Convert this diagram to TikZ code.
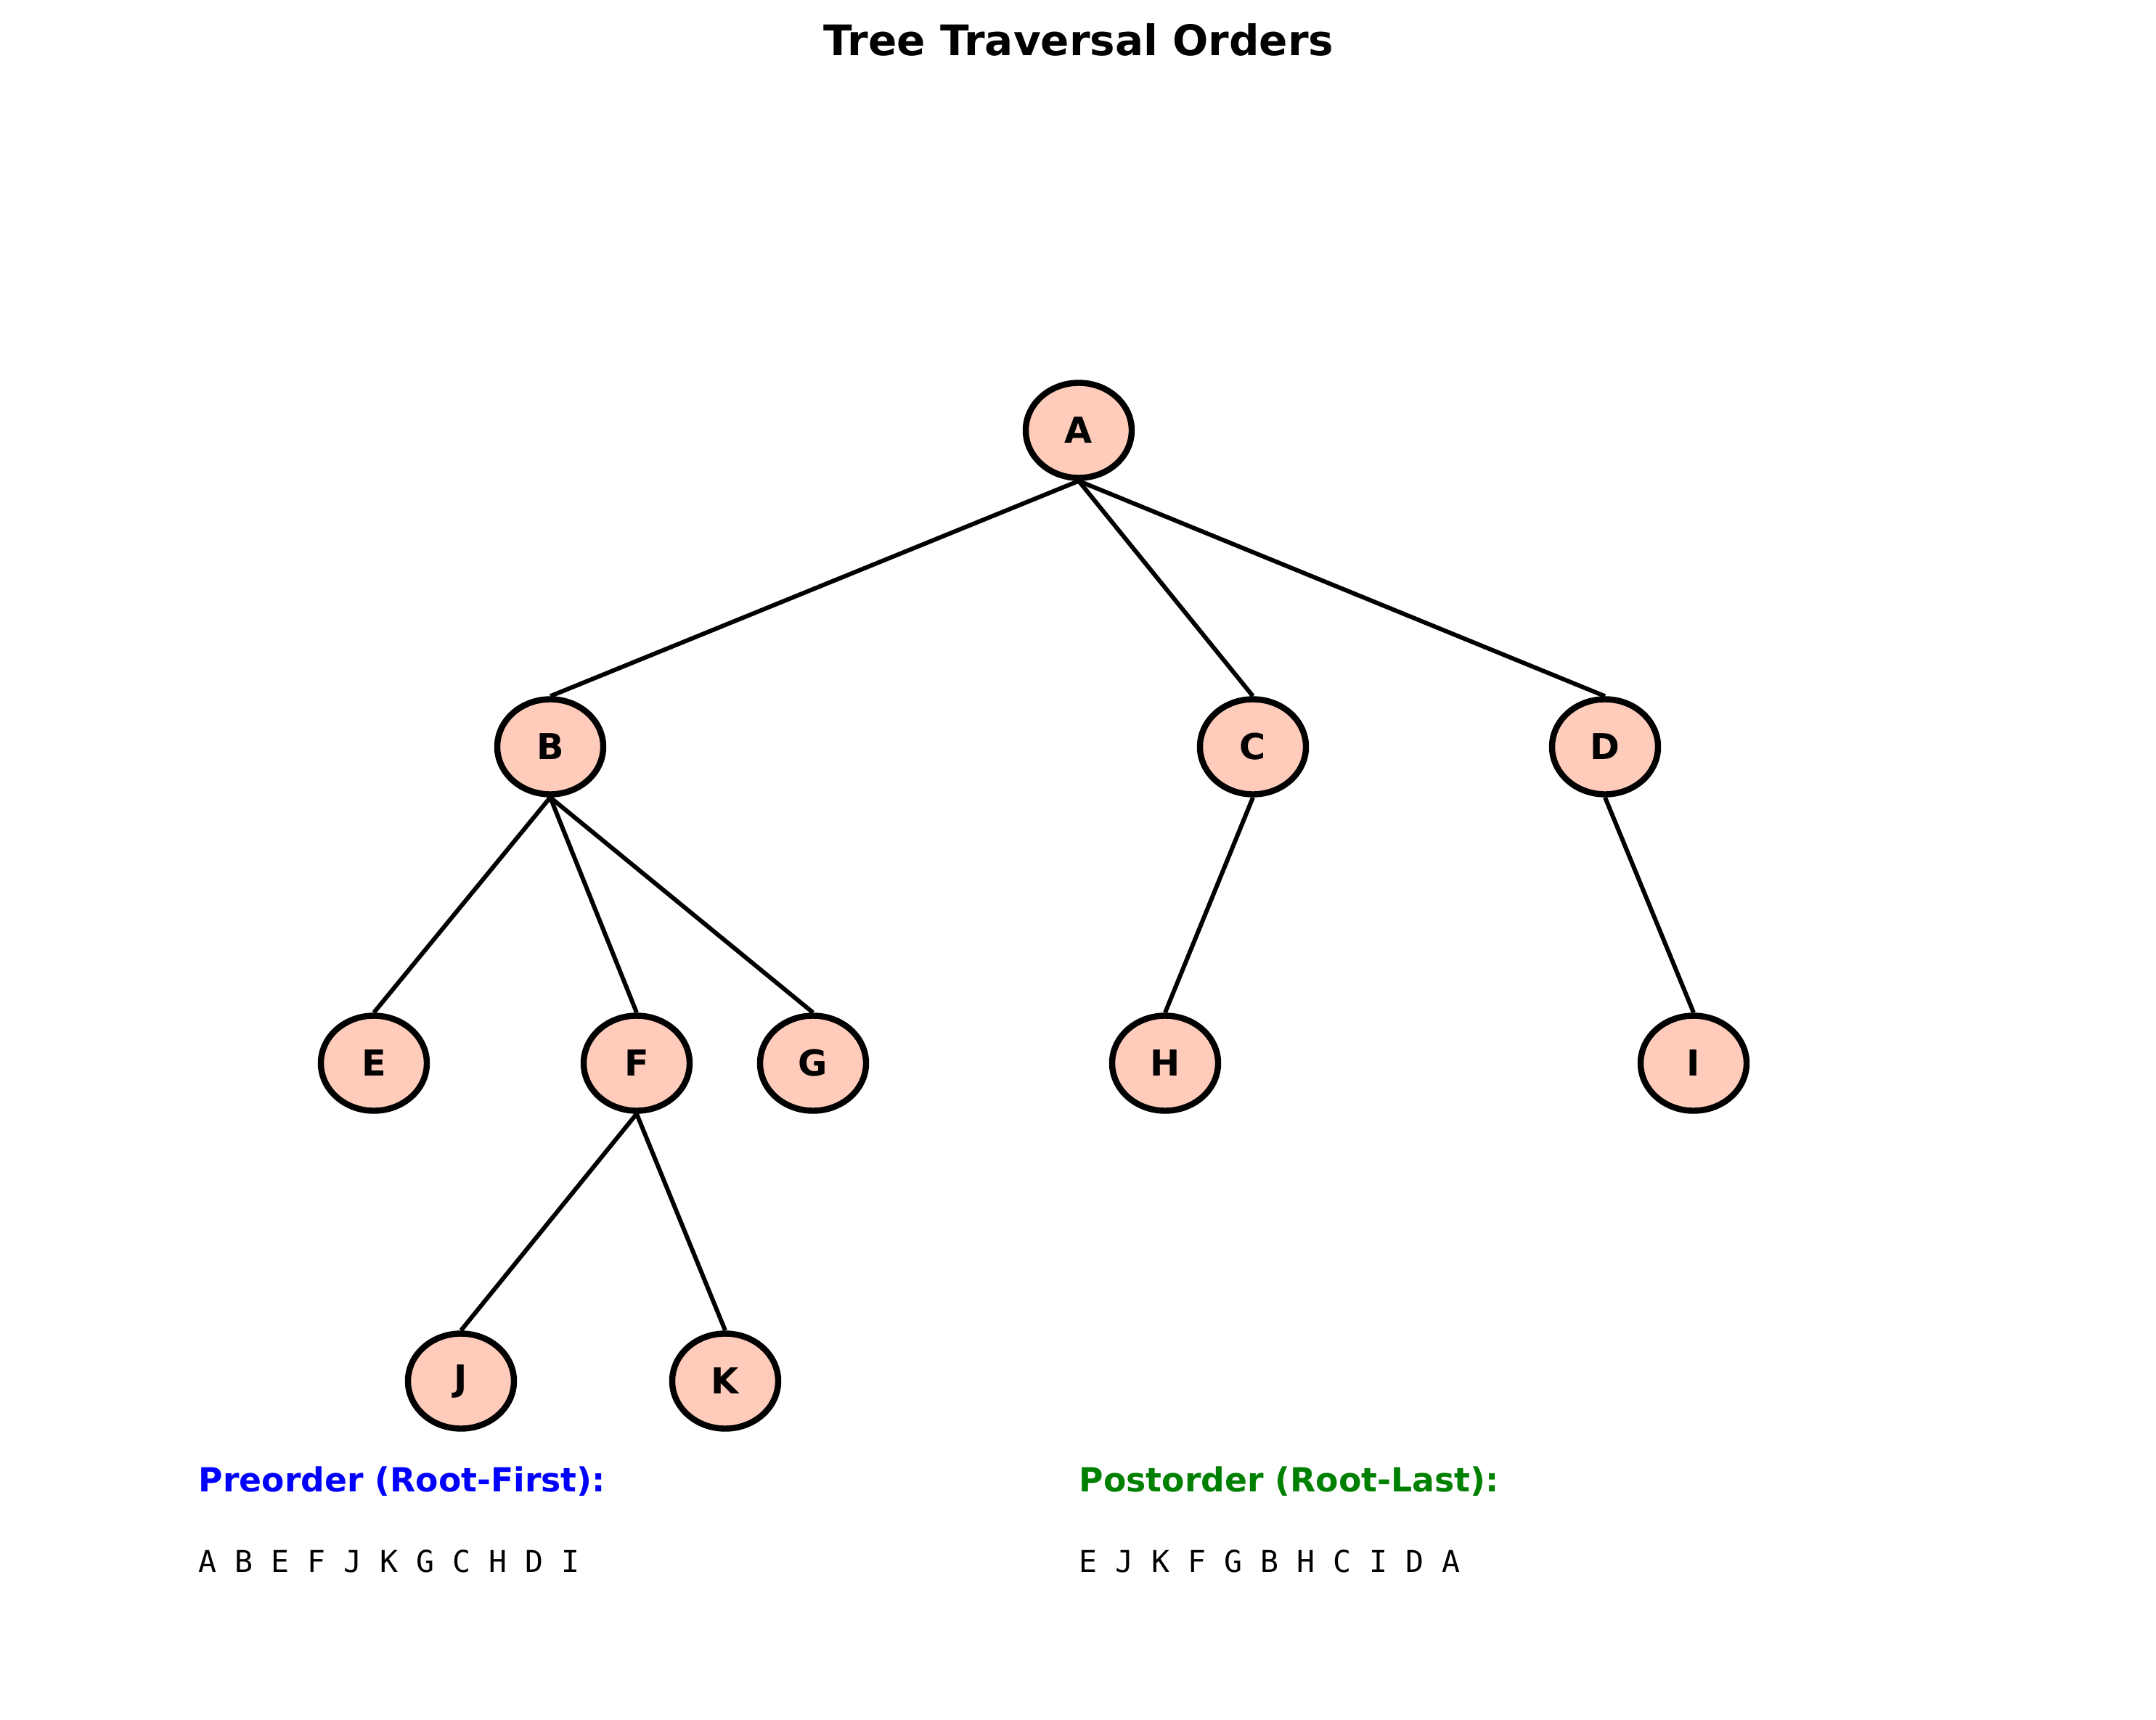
\documentclass[tikz,border=0pt]{standalone}
\usepackage{fontspec}
\setmainfont{DejaVu Sans}
\setmonofont{DejaVu Sans Mono}
\usetikzlibrary{shapes.geometric}
\definecolor{peach}{RGB}{255,204,187}
\definecolor{darkgreen}{RGB}{0,128,0}
\tikzset{
  treenode/.style={ellipse, draw=black, line width=2.4pt, fill=peach,
    minimum width=1.46cm, minimum height=1.31cm, inner sep=0pt,
    font=\fontsize{14}{16}\selectfont\bfseries},
  branch/.style={line width=1.7pt, black},
  heading/.style={anchor=west, inner sep=0pt, font=\fontsize{13}{15}\selectfont\bfseries},
  sequence/.style={anchor=west, inner sep=0pt, font=\fontsize{11.8}{14}\selectfont\ttfamily}
}
\begin{document}
\begin{tikzpicture}
			\useasboundingbox (0,0) rectangle (29.7,-23.7);
			\node[font=\fontsize{16.5}{19}\selectfont\bfseries] (title) at (14.86,-0.55) {Tree Traversal Orders};
			% tree
			\node[treenode] (A) at (14.86,-5.93) {A};
			\node[treenode] (B) at (7.58,-10.29) {B};
			\node[treenode] (C) at (17.26,-10.29) {C};
			\node[treenode] (D) at (22.11,-10.29) {D};
			\node[treenode] (E) at (5.15,-14.65) {E};
			\node[treenode] (F) at (8.77,-14.65) {F};
			\node[treenode] (G) at (11.20,-14.65) {G};
			\node[treenode] (H) at (16.05,-14.65) {H};
			\node[treenode] (I) at (23.33,-14.65) {I};
			\node[treenode] (J) at (6.35,-19.03) {J};
			\node[treenode] (K) at (9.99,-19.03) {K};
			\draw[branch] (A.south) -- (B.north);
			\draw[branch] (A.south) -- (C.north);
			\draw[branch] (A.south) -- (D.north);
			\draw[branch] (B.south) -- (E.north);
			\draw[branch] (B.south) -- (F.north);
			\draw[branch] (B.south) -- (G.north);
			\draw[branch] (C.south) -- (H.north);
			\draw[branch] (D.south) -- (I.north);
			\draw[branch] (F.south) -- (J.north);
			\draw[branch] (F.south) -- (K.north);
			% orders
			\node[heading, text=blue] (pre) at (2.73,-20.41) {Preorder (Root-First):};
			\node[sequence] (preseq) at (2.73,-21.51) {A B E F J K G C H D I};
			\node[heading, text=darkgreen] (post) at (14.86,-20.41) {Postorder (Root-Last):};
			\node[sequence] (postseq) at (14.86,-21.51) {E J K F G B H C I D A};
			\end{tikzpicture}
\end{document}
